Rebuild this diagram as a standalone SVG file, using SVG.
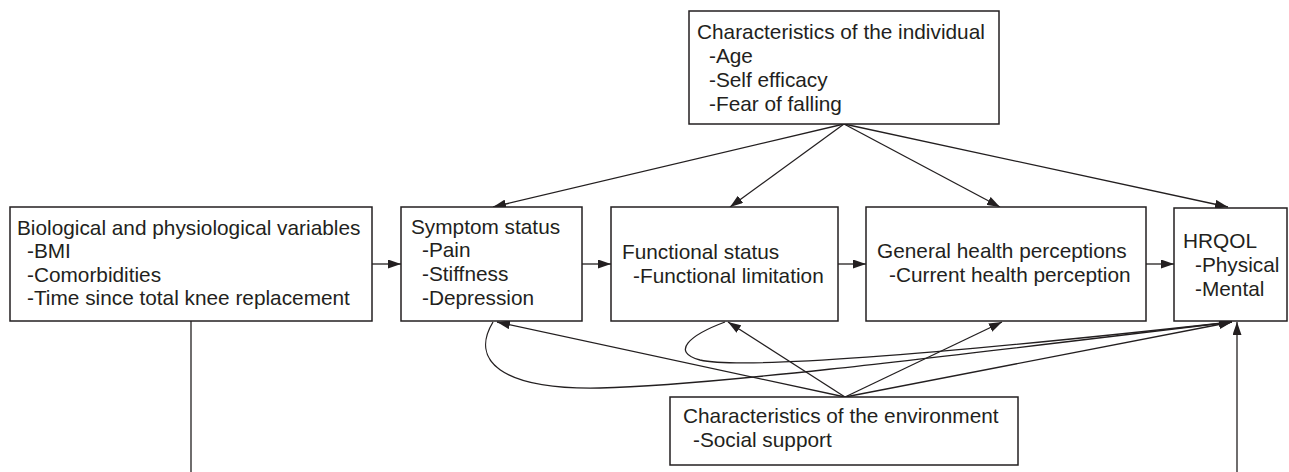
<svg xmlns="http://www.w3.org/2000/svg" width="1289" height="472" viewBox="0 0 1289 472">
<defs>
<style>
.box{fill:#fff;stroke:#231f20;stroke-width:1.5}
.t{font-family:"Liberation Sans",Arial,sans-serif;font-size:20.8px;fill:#231f20}
.c{fill:none;stroke:#231f20;stroke-width:1.3}
</style>
<marker id="ah" viewBox="0 0 13 9" refX="13" refY="4.5" markerWidth="13" markerHeight="9" markerUnits="userSpaceOnUse" orient="auto"><path d="M0,0 L13,4.5 L0,9 z" fill="#231f20"/></marker>
</defs>
<rect width="1289" height="472" fill="#fff"/>
<g id="connectors">
<line class="c" x1="844" y1="124" x2="493" y2="207" marker-end="url(#ah)"/>
<line class="c" x1="844" y1="124" x2="730" y2="207" marker-end="url(#ah)"/>
<line class="c" x1="844" y1="124" x2="1000" y2="207" marker-end="url(#ah)"/>
<line class="c" x1="844" y1="124" x2="1228" y2="207" marker-end="url(#ah)"/>
<line class="c" x1="372" y1="264" x2="401" y2="264" marker-end="url(#ah)"/>
<line class="c" x1="582" y1="264" x2="611" y2="264" marker-end="url(#ah)"/>
<line class="c" x1="838" y1="264" x2="866" y2="264" marker-end="url(#ah)"/>
<line class="c" x1="1146" y1="264" x2="1174" y2="264" marker-end="url(#ah)"/>
<line class="c" x1="845" y1="397" x2="497" y2="322" marker-end="url(#ah)"/>
<line class="c" x1="845" y1="397" x2="728" y2="322" marker-end="url(#ah)"/>
<line class="c" x1="845" y1="397" x2="1002" y2="322" marker-end="url(#ah)"/>
<line class="c" x1="845" y1="397" x2="1232" y2="322" marker-end="url(#ah)"/>
<path class="c" d="M493,322 C470,360 500,390 600,388 C700,386 900,362 1232,322" marker-end="url(#ah)"/>
<path class="c" d="M725,322 C690,335 670,352 700,360 C730,367 850,364 1232,322" marker-end="url(#ah)"/>
<line class="c" x1="191" y1="321" x2="191" y2="472"/>
<line class="c" x1="1237" y1="472" x2="1237" y2="322" marker-end="url(#ah)"/>
</g>
<g id="individual">
<rect class="box" x="689" y="11" width="310" height="113"/>
<text class="t" x="697" y="39">Characteristics of the individual</text>
<text class="t" x="709" y="63">-Age</text>
<text class="t" x="709" y="87">-Self efficacy</text>
<text class="t" x="709" y="111">-Fear of falling</text>
</g>
<g id="biological">
<rect class="box" x="10" y="207" width="362" height="114"/>
<text class="t" x="17" y="235">Biological and physiological variables</text>
<text class="t" x="27" y="258">-BMI</text>
<text class="t" x="27" y="282">-Comorbidities</text>
<text class="t" x="27" y="305">-Time since total knee replacement</text>
</g>
<g id="symptom">
<rect class="box" x="401" y="207" width="181" height="114"/>
<text class="t" x="411" y="234">Symptom status</text>
<text class="t" x="422" y="257">-Pain</text>
<text class="t" x="422" y="281">-Stiffness</text>
<text class="t" x="422" y="305">-Depression</text>
</g>
<g id="functional">
<rect class="box" x="611" y="207" width="227" height="114"/>
<text class="t" x="622" y="259">Functional status</text>
<text class="t" x="633" y="283">-Functional limitation</text>
</g>
<g id="general">
<rect class="box" x="866" y="207" width="280" height="114"/>
<text class="t" x="877" y="258">General health perceptions</text>
<text class="t" x="889" y="282">-Current health perception</text>
</g>
<g id="hrqol">
<rect class="box" x="1174" y="208" width="113" height="113"/>
<text class="t" x="1183" y="248">HRQOL</text>
<text class="t" x="1195" y="272">-Physical</text>
<text class="t" x="1195" y="296">-Mental</text>
</g>
<g id="environment">
<rect class="box" x="670" y="397" width="348" height="68"/>
<text class="t" x="683" y="423">Characteristics of the environment</text>
<text class="t" x="693" y="447">-Social support</text>
</g>
</svg>
